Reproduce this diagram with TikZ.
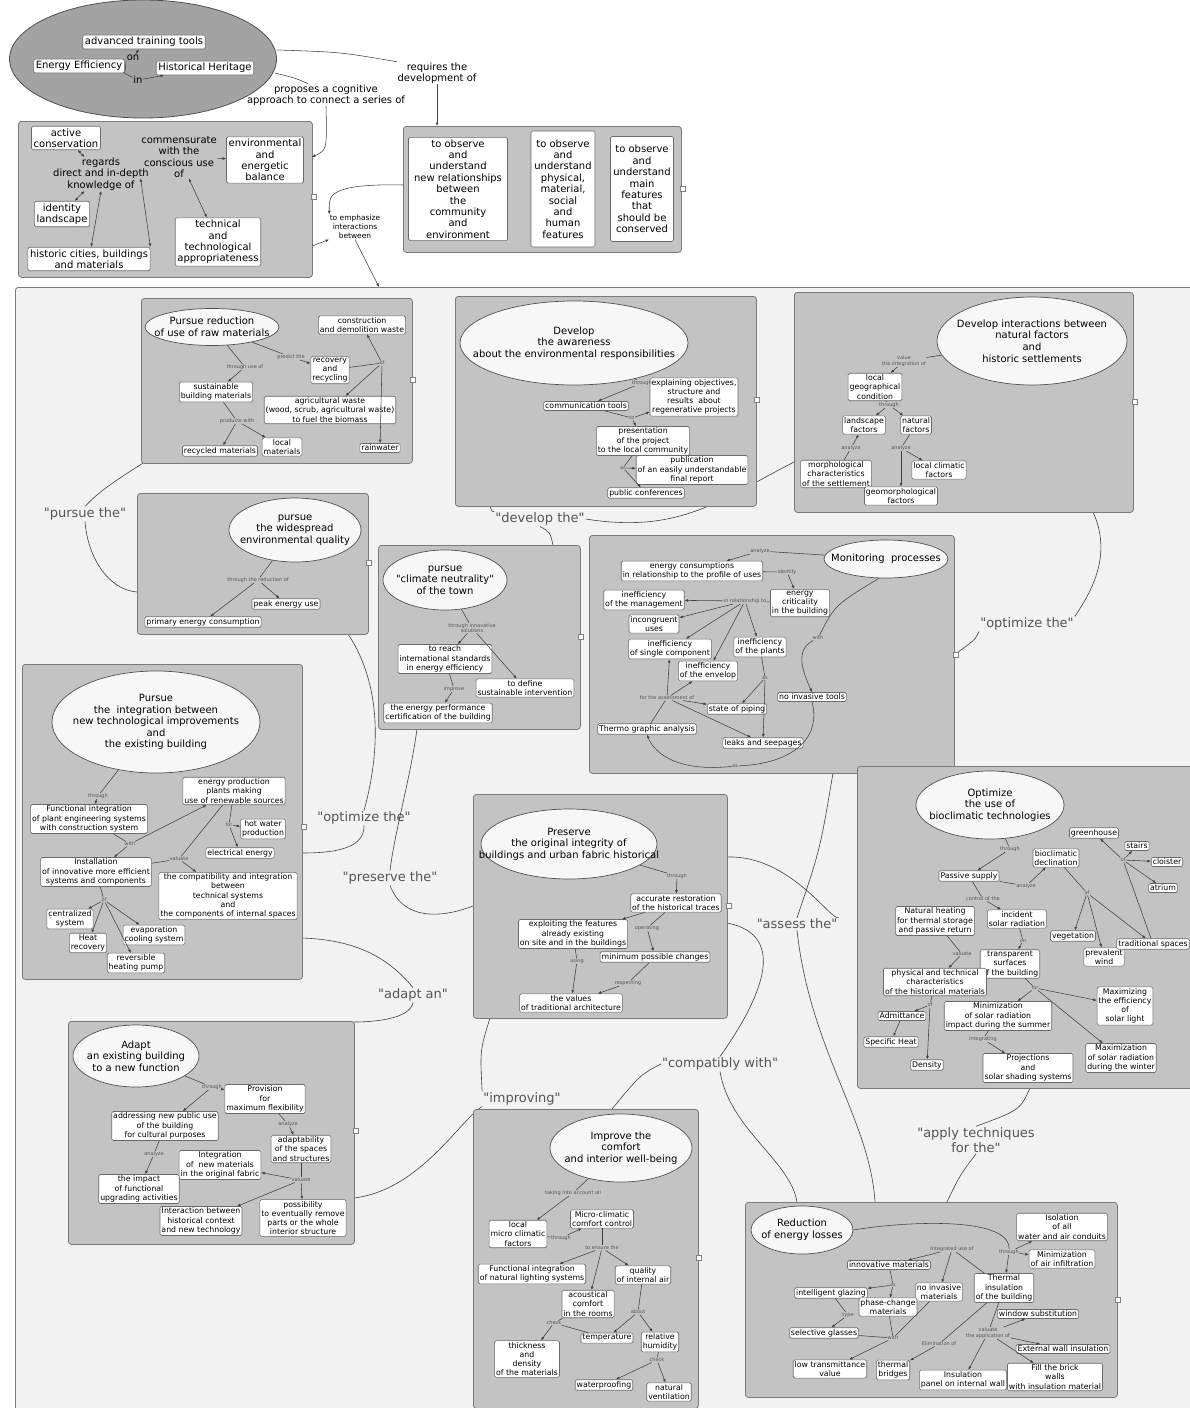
\documentclass[tikz,border=0pt]{standalone}
\usepackage{fontspec}
\setmainfont{DejaVu Sans}
\usetikzlibrary{shapes.geometric,arrows.meta,calc}
\definecolor{pfill}{HTML}{C3C3C3}
\definecolor{pdraw}{HTML}{7A7A7A}
\definecolor{ndraw}{HTML}{6A6A6A}
\definecolor{efill}{HTML}{F7F7F7}
\definecolor{edraw}{HTML}{505050}
\definecolor{lcol}{HTML}{404040}
\definecolor{lbcol}{HTML}{555555}
\definecolor{qcol}{HTML}{555555}
\definecolor{cfill}{HTML}{F2F2F2}
\definecolor{topell}{HTML}{A3A3A3}
\newcommand\fsm{\fontsize{7.8}{9.2}\selectfont}
\newcommand\fbg{\fontsize{10}{11.4}\selectfont}
\newcommand\fel{\fontsize{10}{11.6}\selectfont}
\newcommand\flb{\fontsize{5}{5.6}\selectfont}
\newcommand\fqt{\fontsize{13}{15}\selectfont}
\newcommand\qq{\textquotedbl}
\newcommand\pnl[5]{\node[pnl,minimum width=#4,minimum height=#5] (#1) at (#2,#3) {};}
\newcommand\elp[6]{\node[el,minimum width=#4,minimum height=#5] (#1) at (#2,#3) {};\node[elt] (#1t) at (#1) {#6};}
\newcommand\lk[3]{\draw[ln] (#1) -- (#2); \foreach \tg in {#3} {\draw[ar] (#2) -- (\tg);}}
\begin{document}
\begin{tikzpicture}[x=1pt,y=-1pt,
  pnl/.style={draw=pdraw, fill=pfill, rounded corners=3pt, line width=0.8pt, inner sep=0pt, anchor=north west},
  cn/.style={draw=ndraw, fill=white, rounded corners=1.5pt, line width=0.6pt, align=center, inner sep=1.5pt, font=\fsm},
  tn/.style={cn, font=\fbg, inner sep=2.2pt},
  el/.style={ellipse, draw=edraw, fill=efill, line width=0.7pt, inner sep=0pt},
  elt/.style={font=\fel, align=center, inner sep=0pt},
  lb/.style={font=\flb, text=lbcol, align=center, inner sep=0.4pt},
  tl/.style={font=\fbg, align=center, inner sep=0.5pt},
  ln/.style={draw=lcol, line width=0.55pt},
  ar/.style={ln, -{Latex[length=3.5pt,width=2.8pt]}},
  dar/.style={ln, {Latex[length=3.5pt,width=2.8pt]}-{Latex[length=3.5pt,width=2.8pt]}},
  ql/.style={font=\fqt, text=qcol, inner sep=1pt, align=center},
  bc/.style={draw=lcol, line width=0.6pt},
  ico/.style={draw=gray, fill=white, minimum size=5pt, inner sep=0pt, line width=0.4pt}
]
\useasboundingbox (0,0) rectangle (1189,1408);
\fill[white] (0,0) rectangle (1189,1408);

% ================= TOP =================
\node[ellipse, draw=edraw, fill=topell, line width=0.8pt, minimum width=267, minimum height=118, inner sep=0pt] (E0) at (143,59) {};
\node[tn] (att) at (144,42) {advanced training tools};
\node[tn] (ee) at (79,66) {Energy Efficiency};
\node[tn] (hh) at (205,68) {Historical Heritage};
\node[tl] (on) at (133,58) {on};
\node[tl] (in) at (138,80) {in};
\draw[ln] (ee.south east) -- (on.south west);
\draw[ar] (on) -- (att);
\draw[ln] (ee.south east) -- (in);
\draw[ar] (in) -- (hh);

\pnl{pL}{18}{121}{294}{156}
\node[tn] (ac) at (66,138) {active\\conservation};
\node[tl] (rg) at (101,174) {regards\\direct and in-depth\\knowledge of};
\node[tn] (il) at (62,214) {identity\\landscape};
\node[tn] (hc) at (89,259) {historic cities, buildings\\and materials};
\node[tl] (cm) at (179,157) {commensurate\\with the\\conscious use\\of};
\node[tn] (eb) at (265,160) {environmental\\and\\energetic\\balance};
\node[tn] (ta) at (218,242) {technical\\and\\technological\\appropriateness};
\draw[dar] (ac) -- (rg);
\draw[dar] (rg) -- (il);
\draw[dar] (rg.south) -- (hc);
\draw[ar] (cm) -- (eb);
\draw[dar] (cm.south west) -- (hc.north east);
\draw[dar] (cm) -- (ta);

\pnl{pR}{403}{126}{278}{126}
\node[tn, minimum width=99, minimum height=103] (r1) at (458,189) {to observe\\and\\understand\\new relationships\\between\\the\\community\\and\\environment};
\node[tn, minimum width=64, minimum height=116] (r2) at (563,189) {to observe\\and\\understand\\physical,\\material,\\social\\and\\human\\features};
\node[tn, minimum width=63, minimum height=105] (r3) at (642,189) {to observe\\and\\understand\\main\\features\\that\\should be\\conserved};

\node[tl] (req) at (437,73) {requires the\\development of};
\node[tl] (prop) at (326,95) {proposes a cognitive\\approach to connect a series of};
\node[tl, font=\fontsize{7.5}{9}\selectfont] (emph) at (355,227) {to emphasize\\interactions\\between};

\coordinate (t1) at (277,50);
\coordinate (t2) at (437,126);
\coordinate (t3) at (275,73);
\coordinate (t4) at (312,157);
\coordinate (t5) at (403,185);
\coordinate (t6) at (312,246);
\coordinate (t7) at (379,287);
\draw[ln] (t1) .. controls (340,52) .. (req.north west);
\draw[ar] (req.south) -- (t2);
\draw[ln] (t3) .. controls (295,78) .. ($(prop.north west)+(62,0)$);
\draw[ar] (prop.south) .. controls (327,150) .. (t4);
\draw[ar] (t5) .. controls (320,183) and (330,200) .. (emph.north west);
\draw[ar] (t6) -- (emph.south west);
\draw[ar] (emph.south) -- (t7);

% ================= CONTAINER =================
\node[draw=pdraw, fill=cfill, line width=0.8pt, rounded corners=3pt, anchor=north west, minimum width=1185, minimum height=1135, inner sep=0pt] (C) at (15,287) {};

% ---- quoted labels ----
\node[ql] (q1) at (85,514) {\qq pursue the\qq};
\node[ql] (q2) at (540,519) {\qq develop the\qq};
\node[ql] (q3) at (1027,624) {\qq optimize the\qq};
\node[ql] (q4) at (364,818) {\qq optimize the\qq};
\node[ql] (q5) at (390,878) {\qq preserve the\qq};
\node[ql] (q6) at (797,924) {\qq assess the\qq};
\node[ql] (q7) at (413,995) {\qq adapt an\qq};
\node[ql] (q8) at (522,1099) {\qq improving\qq};
\node[ql] (q9) at (720,1064) {\qq compatibly with\qq};
\node[ql] (q10) at (976,1140) {\qq apply techniques\\for the\qq};

% ---- inter-panel connectors (endpoints) ----
\coordinate (kA) at (143,463);
\coordinate (kD) at (137,592);
\coordinate (kB) at (490,506);
\coordinate (kE) at (553,545);
\coordinate (kC) at (794,462);
\coordinate (kCb) at (1093,512);
\coordinate (kF) at (954,655);
\coordinate (kDb) at (348,634);
\coordinate (kG1) at (302,853);
\coordinate (kEb) at (417,729);
\coordinate (kH1) at (473,906);
\coordinate (kFb) at (833,773);
\coordinate (kH2) at (727,857);
\coordinate (kH3) at (727,923);
\coordinate (kL1) at (797,1202);
\coordinate (kL2) at (875,1202);
\coordinate (kL3) at (947,1202);
\coordinate (kIb) at (1030,1088);
\coordinate (kG2) at (302,938);
\coordinate (kJ1) at (354,1022);
\coordinate (kJ2) at (354,1198);
\coordinate (kHb) at (490,1018);
\coordinate (kK) at (612,1109);

\draw[bc] (kA) .. controls (120,478) and (100,490) .. (q1.north);
\draw[bc] (q1.south) .. controls (88,560) and (110,590) .. (kD);
\draw[bc] (kB) .. controls (492,512) .. (q2.north west);
\draw[bc] (q2.south) .. controls (550,532) .. (kE);
\draw[bc] (q2.east) .. controls (680,534) and (720,500) .. (kC);
\draw[bc] (kCb) .. controls (1115,560) and (1085,600) .. (q3.north east);
\draw[bc] (q3.south west) .. controls (975,640) .. (kF);
\draw[bc] (kDb) .. controls (385,690) and (378,760) .. (q4.north);
\draw[bc] (q4.south) .. controls (365,850) and (330,853) .. (kG1);
\draw[bc] (kEb) .. controls (410,780) and (395,830) .. (q5.north);
\draw[bc] (q5.south) .. controls (405,925) and (450,915) .. (kH1);
\draw[bc] (kFb) .. controls (820,850) .. (q6.north);
\draw[bc] (q6.south) .. controls (810,1050) and (870,1120) .. (kL2);
\draw[bc] (kH2) .. controls (790,855) and (830,920) .. (q6.north east);
\draw[bc] (kH3) .. controls (790,935) and (760,1000) .. (q9.north);
\draw[bc] (q9.south) .. controls (730,1130) and (790,1160) .. (kL1);
\draw[bc] (kIb) .. controls (1020,1110) .. (q10.north);
\draw[bc] (q10.south) .. controls (960,1175) .. (kL3);
\draw[bc] (kG2) .. controls (360,940) and (390,960) .. (q7.north);
\draw[bc] (q7.south) .. controls (410,1020) and (370,1022) .. (kJ1);
\draw[bc] (kJ2) .. controls (420,1190) and (460,1120) .. (q8.south west);
\draw[bc] (kHb) .. controls (480,1050) .. (q8.north west);
\draw[bc] (q9.west) .. controls (640,1075) .. (kK);

% ================= PANEL A =================
\pnl{pA}{141}{298}{271}{165}
\elp{a0}{212}{327}{134}{37}{Pursue reduction\\of use of raw materials}
\node[cn] (a1) at (362,325) {construction\\and demolition waste};
\node[cn] (a2) at (330,370) {recovery\\and\\recycling};
\node[cn] (a3) at (216,392) {sustainable\\building materials};
\node[cn] (a4) at (330,410) {agricultural waste\\(wood, scrub, agricultural waste)\\to fuel the biomass};
\node[cn] (a5) at (220,451) {recycled materials};
\node[cn] (a6) at (282,447) {local\\materials};
\node[cn] (a7) at (380,448) {rainwater};
\node[lb] (la1) at (245,367) {through use of};
\node[lb] (la2) at (291,357) {predict the};
\node[lb] (la3) at (382,363) {of};
\node[lb] (la4) at (237,421) {products with};
\lk{a0}{la1}{a3}
\lk{a0}{la2}{a2}
\lk{a2}{la3}{a1,a4,a7}
\lk{a3}{la4}{a5,a6}
\node[ico] (iA) at (413,380) {};

% ================= PANEL B =================
\pnl{pB}{455}{296}{301}{210}
\elp{b0}{574}{343}{228}{84}{Develop\\the awareness\\about the environmental responsibilities}
\node[cn] (b1) at (586,406) {communication tools};
\node[cn] (b2) at (694,397) {explaining objectives,\\structure and\\results\ \ about\\regenerative projects};
\node[cn] (b3) at (643,441) {presentation\\of the project\\to the local community};
\node[cn] (b4) at (692,470) {publication\\of an easily understandable\\final report};
\node[cn] (b5) at (646,493) {public conferences};
\node[lb] (lb1) at (642,383) {through};
\node[lb] (lb2) at (632,418) {to};
\node[lb] (lb3) at (623,468) {as};
\lk{b0}{lb1}{b1}
\lk{b1}{lb2}{b2,b3}
\lk{b3}{lb3}{b4,b5}
\node[ico] (iB) at (757,400) {};

% ================= PANEL C =================
\pnl{pC}{794}{292}{339}{220}
\elp{c0}{1032}{341}{190}{88}{Develop interactions between\\natural factors\\and\\historic settlements}
\node[cn] (c1) at (875,387) {local\\geographical\\condition};
\node[cn] (c2) at (864,425) {landscape\\factors};
\node[cn] (c3) at (916,425) {natural\\factors};
\node[cn] (c4) at (836,474) {morphological\\characteristics\\of the settlement};
\node[cn] (c5) at (939,470) {local climatic\\factors};
\node[cn] (c6) at (901,496) {geomorphological\\factors};
\node[lb] (lc1) at (904,361) {value\\the integration of};
\node[lb] (lc2) at (889,405) {through};
\node[lb] (lc3) at (851,448) {analyze};
\node[lb] (lc4) at (901,448) {analyze};
\lk{c0}{lc1}{c1}
\lk{c1}{lc2}{c2,c3}
\lk{c4}{lc3}{c2}
\lk{c3}{lc4}{c5,c6}
\node[ico] (iC) at (1135,402) {};

% ================= PANEL D =================
\pnl{pD}{137}{493}{231}{141}
\elp{d0}{295}{530}{132}{64}{pursue\\the widespread\\environmental quality}
\node[cn] (d1) at (286,604) {peak energy use};
\node[cn] (d2) at (203,622) {primary energy consumption};
\node[lb] (ld1) at (258,580) {through the reduction of};
\lk{d0}{ld1}{d1,d2}
\node[ico] (iD) at (369,563) {};

% ================= PANEL E =================
\pnl{pE}{378}{545}{202}{184}
\elp{e0}{445}{580}{124}{60}{pursue\\\qq climate neutrality\qq\\of the town}
\node[cn] (e1) at (445,659) {to reach\\international standards\\in energy efficiency};
\node[cn] (e2) at (525,688) {to define\\sustainable intervention};
\node[cn] (e3) at (438,713) {the energy performance\\certification of the building};
\node[lb] (le1) at (472,628) {through innovative\\solutions};
\node[lb] (le2) at (454,689) {improve};
\lk{e0}{le1}{e1,e2}
\lk{e1}{le2}{e3}
\node[ico] (iE) at (581,637) {};

% ================= PANEL F =================
\pnl{pF}{589}{535}{365}{238}
\elp{f0}{886}{559}{124}{38}{Monitoring\ \ processes}
\node[cn] (f1) at (692,571) {energy consumptions\\in relationship to the profile of uses};
\node[cn] (f2) at (800,603) {energy\\criticality\\in the building};
\node[cn] (f3) at (644,600) {inefficiency\\of the management};
\node[cn] (f4) at (654,624) {incongruent\\uses};
\node[cn] (f5) at (670,649) {inefficiency\\of single component};
\node[cn] (f6) at (760,647) {inefficiency\\of the plants};
\node[cn] (f7) at (708,671) {inefficiency\\of the envelop};
\node[cn] (f8) at (812,697) {no invasive tools};
\node[cn] (f9) at (737,709) {state of piping};
\node[cn] (f10) at (647,729) {Thermo graphic analysis};
\node[cn] (f11) at (763,743) {leaks and seepages};
\node[lb] (lf1) at (760,551) {analyze};
\node[lb] (lf2) at (787,572) {identify};
\node[lb] (lf3) at (745,601) {in relationship to};
\node[lb] (lf4) at (818,638) {with};
\node[lb] (lf5) at (765,678) {as};
\node[lb] (lf6) at (667,698) {for the assessment of};
\node[lb] (lf7) at (735,766) {as};
\lk{f0}{lf1}{f1}
\lk{f1}{lf2}{f2}
\lk{f2}{lf3}{f3,f4,f5,f7,f6}
\draw[ln] (f0.250) .. controls (835,605) .. (lf4);
\draw[ar] (lf4) .. controls (795,650) and (802,670) .. (f8.north);
\lk{f6}{lf5}{f9,f11}
\lk{f10}{lf6}{f5,f7,f9,f11}
\draw[ln] (f8.south) .. controls (822,740) and (790,764) .. (lf7);
\draw[ar] (lf7) .. controls (680,772) and (655,755) .. (f10.south);
\node[ico] (iF) at (956,655) {};

% ================= PANEL G =================
\pnl{pG}{22}{664}{280}{315}
\elp{g0}{156}{722}{208}{102}{Pursue\\the\ \ integration between\\new technological improvements\\and\\the existing building}
\node[cn] (g1) at (89,819) {Functional integration\\of plant engineering systems\\with construction system};
\node[cn] (g2) at (234,791) {energy production\\plants making\\use of renewable sources};
\node[cn] (g3) at (263,829) {hot water\\production};
\node[cn] (g4) at (240,853) {electrical energy};
\node[cn] (g5) at (96,872) {Installation\\of innovative more efficient\\systems and components};
\node[cn] (g6) at (228,896) {the compatibility and integration\\between\\technical systems\\and\\the components of internal spaces};
\node[cn] (g7) at (70,919) {centralized\\system};
\node[cn] (g8) at (88,943) {Heat\\recovery};
\node[cn] (g9) at (154,935) {evaporation\\cooling system};
\node[cn] (g10) at (136,963) {reversible\\heating pump};
\node[lb] (lg1) at (98,796) {through};
\node[lb] (lg2) at (130,844) {with};
\node[lb] (lg3) at (229,825) {for};
\node[lb] (lg4) at (179,859) {valuate};
\node[lb] (lg5) at (104,900) {of};
\lk{g0}{lg1}{g1}
\lk{g1}{lg2}{g2,g5}
\lk{g2}{lg3}{g3,g4}
\lk{g5}{lg4}{g6}
\draw[ln] (g2) -- (lg4);
\lk{g5}{lg5}{g7,g8,g9,g10}
\node[ico] (iG) at (304,827) {};

% ================= PANEL H =================
\pnl{pH}{473}{794}{254}{224}
\elp{h0}{569}{844}{176}{70}{Preserve\\the original integrity of\\buildings and urban fabric historical}
\node[cn] (h1) at (676,903) {accurate restoration\\of the historical traces};
\node[cn] (h2) at (573,934) {exploiting the features\\already existing\\on site and in the buildings};
\node[cn] (h3) at (655,957) {minimum possible changes};
\node[cn] (h4) at (571,1003) {the values\\of traditional architecture};
\node[lb] (lh1) at (677,876) {through};
\node[lb] (lh2) at (647,928) {operating};
\node[lb] (lh3) at (577,961) {using};
\node[lb] (lh4) at (628,983) {respecting};
\lk{h0}{lh1}{h1}
\draw[ar] (h1) -- (h2);
\lk{h1}{lh2}{h3}
\lk{h2}{lh3}{h4}
\lk{h3}{lh4}{h4}
\node[ico] (iH) at (729,906) {};

% ================= PANEL I =================
\pnl{pI}{857}{766}{345}{322}
\elp{i0}{990}{805}{148}{68}{Optimize\\the use of\\bioclimatic technologies}
\node[cn] (i1) at (1094,833) {greenhouse};
\node[cn] (i2) at (1137,846) {stairs};
\node[cn] (i3) at (1167,862) {cloister};
\node[cn] (i4) at (1163,888) {atrium};
\node[cn] (i5) at (1056,858) {bioclimatic\\declination};
\node[cn] (i6) at (969,876) {Passive supply};
\node[cn] (i7) at (935,921) {Natural heating\\for thermal storage\\and passive return};
\node[cn] (i8) at (1017,919) {incident\\solar radiation};
\node[cn] (i9) at (1073,936) {vegetation};
\node[cn] (i11) at (1104,957) {prevalent\\wind};
\node[cn] (i10) at (1153,944) {traditional spaces};
\node[cn] (i12) at (1010,964) {transparent\\surfaces\\of the building};
\node[cn] (i13) at (935,982) {physical and technical\\characteristics\\of the historical materials};
\node[cn] (i14) at (1125,1006) {Maximizing\\the efficiency\\of\\solar light};
\node[cn] (i15) at (998,1016) {Minimization\\of solar radiation\\impact during the summer};
\node[cn] (i16) at (902,1016) {Admittance};
\node[cn] (i17) at (891,1042) {Specific Heat};
\node[cn] (i18) at (927,1065) {Density};
\node[cn] (i19) at (1028,1068) {Projections\\and\\solar shading systems};
\node[cn] (i20) at (1121,1058) {Maximization\\of solar radiation\\during the winter};
\node[lb] (li1) at (1010,849) {through};
\node[lb] (li2) at (1026,886) {analyze};
\node[lb] (li3) at (983,899) {control of the};
\node[lb] (li4) at (1023,941) {on};
\node[lb] (li5) at (962,954) {valuate};
\node[lb] (li6) at (1087,893) {of};
\node[lb] (li7) at (1123,860) {of};
\node[lb] (li8) at (1035,988) {for};
\node[lb] (li9) at (983,1039) {integrating};
\node[lb] (li10) at (930,1005) {of};
\lk{i0}{li1}{i6}
\lk{i6}{li2}{i5}
\lk{i6}{li3}{i8}
\lk{i8}{li4}{i12}
\lk{i7}{li5}{i13}
\lk{i5}{li6}{i9,i11,i10}
\lk{i10}{li7}{i1,i2,i3,i4}
\lk{i12}{li8}{i15,i14,i20}
\lk{i15}{li9}{i19}
\lk{i13}{li10}{i16,i18}
\draw[ar] (i16) -- (i17);

% ================= PANEL J =================
\pnl{pJ}{68}{1021}{286}{223}
\elp{j0}{136}{1056}{126}{62}{Adapt\\an existing building\\to a new function}
\node[cn] (j1) at (265,1099) {Provision\\for\\maximum flexibility};
\node[cn] (j2) at (165,1126) {addressing new public use\\of the building\\for cultural purposes};
\node[cn] (j3) at (301,1149) {adaptability\\of the spaces\\and structures};
\node[cn] (j4) at (220,1165) {Integration\\of\ \ new materials\\in the original fabric};
\node[cn] (j5) at (139,1189) {the impact\\of functional\\upgrading activities};
\node[cn] (j6) at (201,1221) {Interaction between\\historical context\\and new technology};
\node[cn] (j7) at (303,1218) {possibility\\to eventually remove\\parts or the whole\\interior structure};
\node[lb] (lj1) at (212,1087) {through};
\node[lb] (lj2) at (288,1124) {analyze};
\node[lb] (lj3) at (154,1154) {analyze};
\node[lb] (lj4) at (301,1180) {valuate};
\lk{j0}{lj1}{j1,j2}
\lk{j1}{lj2}{j3}
\lk{j2}{lj3}{j5}
\lk{j3}{lj4}{j4,j6,j7}
\node[ico] (iJ) at (356,1131) {};

% ================= PANEL K =================
\pnl{pK}{473}{1109}{225}{299}
\elp{k0}{621}{1148}{142}{68}{Improve the\\comfort\\and interior well-being}
\node[cn] (k1) at (518,1234) {local\\micro climatic\\factors};
\node[cn] (k2) at (602,1219) {Micro-climatic\\comfort control};
\node[cn] (k3) at (532,1274) {Functional integration\\of natural lighting systems};
\node[cn] (k4) at (643,1275) {quality\\of internal air};
\node[cn] (k5) at (588,1304) {acoustical\\comfort\\in the rooms};
\node[cn] (k6) at (607,1338) {temperature};
\node[cn] (k7) at (660,1342) {relative\\humidity};
\node[cn] (k8) at (527,1359) {thickness\\and\\density\\of the materials};
\node[cn] (k9) at (604,1385) {waterproofing};
\node[cn] (k10) at (669,1392) {natural\\ventilation};
\node[lb] (lk1) at (573,1193) {taking into account all};
\node[lb] (lk2) at (561,1238) {through};
\node[lb] (lk3) at (602,1248) {to ensure the};
\node[lb] (lk4) at (638,1312) {about};
\node[lb] (lk5) at (554,1323) {check};
\node[lb] (lk6) at (657,1360) {check};
\lk{k0}{lk1}{k1}
\lk{k1}{lk2}{k2}
\lk{k2}{lk3}{k3,k4,k5}
\lk{k4}{lk4}{k6,k7}
\lk{k5}{lk5}{k8}
\draw[ln] (k6) -- (lk5);
\lk{k7}{lk6}{k9,k10}
\node[ico] (iK) at (699,1258) {};

% ================= PANEL L =================
\pnl{pM}{745}{1202}{372}{195}
\elp{m0}{802}{1230}{102}{48}{Reduction\\of energy losses}
\node[cn] (m1) at (1062,1227) {Isolation\\of all\\water and air conduits};
\node[cn] (m2) at (1062,1259) {Minimization\\of air infiltration};
\node[cn] (m3) at (889,1265) {innovative materials};
\node[cn] (m5) at (831,1293) {intelligent glazing};
\node[cn] (m6) at (939,1292) {no invasive\\materials};
\node[cn] (m7) at (888,1307) {phase-change\\materials};
\node[cn] (m4) at (1004,1288) {Thermal\\insulation\\of the building};
\node[cn] (m8) at (1038,1314) {window substitution};
\node[cn] (m9) at (824,1333) {selective glasses};
\node[cn] (m10) at (1063,1349) {External wall insulation};
\node[cn] (m11) at (830,1369) {low transmittance\\value};
\node[cn] (m12) at (893,1370) {thermal\\bridges};
\node[cn] (m13) at (963,1380) {Insulation\\panel on internal wall};
\node[cn] (m14) at (1055,1377) {Fill the brick\\walls\\with insulation material};
\node[lb] (lm1) at (1009,1252) {through};
\node[lb] (lm2) at (952,1249) {Integrated use of};
\node[lb] (lm3) at (893,1285) {as};
\node[lb] (lm4) at (848,1315) {type};
\node[lb] (lm5) at (893,1338) {with};
\node[lb] (lm6) at (939,1344) {Elimination of};
\node[lb] (lm7) at (988,1333) {valuate\\the application of};
\draw[ln] (m0.east) .. controls (900,1222) and (1010,1215) .. (lm1);
\draw[ar] (lm1) -- (m4);
\draw[ar] (lm1) -- (m1);
\draw[ar] (lm1) -- (m2);
\lk{m4}{lm2}{m3,m6}
\lk{m3}{lm3}{m5,m7}
\lk{m5}{lm4}{m9}
\draw[ln] (m9) -- (lm5);
\draw[ln] (m7) -- (lm5);
\draw[ln] (m6) -- (lm5);
\draw[ar] (lm5) -- (m11);
\lk{m4}{lm6}{m12}
\lk{m4}{lm7}{m8,m10,m13,m14}
\node[ico] (iM) at (1118,1300) {};
\node[ico] (iLp) at (314,197) {};
\node[ico] (iRp) at (683,189) {};
\end{tikzpicture}
\end{document}
